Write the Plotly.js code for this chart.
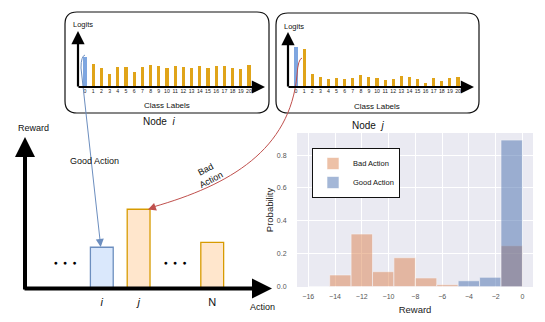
<!DOCTYPE html>
<html>
<head>
<meta charset="utf-8">
<script src="https://cdn.plot.ly/plotly-3.0.1.min.js"></script>
<style>
  html, body { margin: 0; padding: 0; background: #fff; }
  #chart { width: 545px; height: 322px; }
</style>
</head>
<body>
<div id="chart"></div>
<script>
// logits of the two nodes (class 0..20)
const classLabels = ['0','1','2','3','4','5','6','7','8','9','10','11','12','13','14','15','16','17','18','19','20'];
const nodeILogits = [3.0, 2.3, 1.9, 1.3, 2.0, 2.0, 1.5, 2.0, 2.2, 2.1, 1.9, 2.1, 2.0, 1.9, 2.1, 1.9, 2.1, 2.1, 1.9, 1.8, 2.2];
const nodeJLogits = [4.0, 3.8, 1.3, 1.0, 0.8, 0.9, 0.8, 0.9, 1.2, 1.0, 0.9, 0.7, 0.8, 1.1, 1.0, 0.8, 0.4, 0.9, 0.6, 0.9, 1.0];

// reward per action (sketch)
const actionLabels = ['i', 'j', 'N'];
const actionSlots = [1, 2, 4];
const actionRewards = [1.03, 1.98, 1.15];
const dotSlots = [0, 3];

// reward histogram
const rewardBins = [-15.2, -13.6, -12.0, -10.4, -8.8, -7.2, -5.6, -4.0, -2.4, -0.8];
const badProb  = [0, 0.071, 0.32, 0.091, 0.176, 0.053, 0.012, 0, 0, 0.249];
const goodProb = [0, 0, 0, 0, 0, 0, 0, 0.036, 0.057, 0.891];

const W = 545, H = 322;
const FONT = 'Liberation Sans, Arial, sans-serif';
const gold = '#e0a419', logitBlue = '#7ea6e0';
const lineBlue = '#6c8ebf', lineRed = '#c0504d';

// pixel -> paper helpers
const px = x => x / W;
const py = y => 1 - y / H;
const pt = (x, y) => px(x) + ',' + py(y);

function roundRect(x0, y0, x1, y1, r) {
  return 'M' + pt(x0 + r, y0) + ' L' + pt(x1 - r, y0) + ' Q' + pt(x1, y0) + ' ' + pt(x1, y0 + r) +
    ' L' + pt(x1, y1 - r) + ' Q' + pt(x1, y1) + ' ' + pt(x1 - r, y1) +
    ' L' + pt(x0 + r, y1) + ' Q' + pt(x0, y1) + ' ' + pt(x0, y1 - r) +
    ' L' + pt(x0, y0 + r) + ' Q' + pt(x0, y0) + ' ' + pt(x0 + r, y0) + ' Z';
}

function arrow(tipX, tipY, tailX, tailY, color, width, size) {
  return {
    xref: 'paper', yref: 'paper', x: px(tipX), y: py(tipY),
    ax: tailX - tipX, ay: tailY - tipY, axref: 'pixel', ayref: 'pixel',
    text: '', showarrow: true, arrowhead: 2, arrowsize: size,
    arrowwidth: width, arrowcolor: color, standoff: 0, startstandoff: 0
  };
}

function label(x, y, text, size, extra) {
  return Object.assign({
    xref: 'paper', yref: 'paper', x: px(x), y: py(y), text: text,
    showarrow: false, font: { family: FONT, size: size, color: '#111' },
    xanchor: 'center', yanchor: 'middle'
  }, extra || {});
}

const traces = [
  {
    type: 'bar', x: classLabels, y: nodeILogits, xaxis: 'x', yaxis: 'y',
    width: 0.38, showlegend: false, hoverinfo: 'skip',
    marker: { color: classLabels.map((c, k) => k === 0 ? logitBlue : gold) }
  },
  {
    type: 'bar', x: classLabels, y: nodeJLogits, xaxis: 'x2', yaxis: 'y2',
    width: 0.38, showlegend: false, hoverinfo: 'skip',
    marker: { color: classLabels.map((c, k) => k === 0 ? logitBlue : gold) }
  },
  {
    type: 'bar', x: actionSlots, y: actionRewards, xaxis: 'x3', yaxis: 'y3',
    width: 0.62, showlegend: false, hoverinfo: 'skip',
    marker: {
      color: actionLabels.map(a => a === 'i' ? '#dae8fc' : '#ffe6cc'),
      line: { color: actionLabels.map(a => a === 'i' ? lineBlue : '#d79b00'), width: 1.3 }
    }
  },
  {
    type: 'bar', name: 'Bad Action', x: rewardBins, y: badProb, xaxis: 'x4', yaxis: 'y4',
    width: 1.6, opacity: 0.5,
    marker: { color: '#dd8452', line: { color: '#ffffff', width: 0.6 } }
  },
  {
    type: 'bar', name: 'Good Action', x: rewardBins, y: goodProb, xaxis: 'x4', yaxis: 'y4',
    width: 1.6, opacity: 0.5,
    marker: { color: '#4c72b0', line: { color: '#ffffff', width: 0.6 } }
  }
];

const logitX = (d0, d1, r0, r1) => ({
  domain: [px(d0), px(d1)], range: [r0, r1], type: 'category',
  showgrid: false, zeroline: false, showline: false, ticks: '',
  tickfont: { family: FONT, size: 5.2, color: '#222' }, tickangle: 0, fixedrange: true
});
const hiddenY = (d0, d1, r1) => ({
  domain: [py(d0), py(d1)], range: [0, r1], showgrid: false, zeroline: false,
  showline: false, showticklabels: false, ticks: ''
});

const layout = {
  width: W, height: H,
  margin: { l: 0, r: 0, t: 0, b: 0 },
  paper_bgcolor: '#fff', plot_bgcolor: 'rgba(0,0,0,0)',
  barmode: 'overlay', bargap: 0,
  font: { family: FONT },
  xaxis: Object.assign(logitX(78, 264, -0.85, 21.83), { anchor: 'y' }),
  yaxis: Object.assign(hiddenY(87, 32, 5.5), { anchor: 'x' }),
  xaxis2: Object.assign(logitX(288, 473, -0.99, 21.85), { anchor: 'y2' }),
  yaxis2: Object.assign(hiddenY(87, 33, 5.4), { anchor: 'x2' }),
  xaxis3: {
    domain: [px(25), px(270)], range: [-1.087, 5.57], anchor: 'y3',
    tickvals: actionSlots,
    ticktext: actionLabels.map(a => a === 'N' ? a : '<i>' + a + '</i>'),
    ticks: 'outside', ticklen: 3, tickcolor: 'rgba(0,0,0,0)',
    tickfont: { family: FONT, size: 11, color: '#111' },
    showgrid: false, zeroline: false, showline: false
  },
  yaxis3: Object.assign(hiddenY(288.5, 138, 3.76), { anchor: 'x3' }),
  xaxis4: {
    domain: [px(297), px(533)], range: [-16.84, 0.79], anchor: 'y4',
    dtick: 2, tick0: 0, showgrid: true, gridcolor: '#ffffff', gridwidth: 1,
    zeroline: false, showline: false,
    ticks: 'outside', ticklen: 3, tickcolor: 'rgba(0,0,0,0)',
    tickfont: { family: FONT, size: 7, color: '#555' },
    title: { text: 'Reward', font: { family: FONT, size: 9.5, color: '#222' }, standoff: 6 }
  },
  yaxis4: {
    domain: [py(287), py(133)], range: [-0.002, 0.934], anchor: 'x4',
    dtick: 0.2, tick0: 0, tickformat: '.1f',
    showgrid: true, gridcolor: '#ffffff', gridwidth: 1,
    zeroline: false, showline: false,
    ticks: 'outside', ticklen: 8, tickcolor: 'rgba(0,0,0,0)',
    tickfont: { family: FONT, size: 7, color: '#555' },
    title: { text: 'Probability', font: { family: FONT, size: 9.5, color: '#222' }, standoff: 1 }
  },
  showlegend: true,
  legend: {
    x: px(312), y: py(148), xanchor: 'left', yanchor: 'top',
    bgcolor: '#ffffff', bordercolor: '#111', borderwidth: 1,
    font: { family: FONT, size: 7.5, color: '#111' },
    itemwidth: 30, tracegroupgap: 2
  },
  shapes: [
    // histogram background
    { type: 'rect', xref: 'x4 domain', yref: 'y4 domain', x0: 0, x1: 1, y0: 0, y1: 1,
      fillcolor: '#eaeaf2', line: { width: 0 }, layer: 'below' },
    // node boxes
    { type: 'path', xref: 'paper', yref: 'paper', path: roundRect(65, 12, 269, 113, 12),
      line: { color: '#111', width: 1.2 } },
    { type: 'path', xref: 'paper', yref: 'paper', path: roundRect(276, 13, 479, 113, 12),
      line: { color: '#111', width: 1.2 } },
    // good action link
    { type: 'path', xref: 'paper', yref: 'paper',
      path: 'M' + pt(85, 55) + ' Q' + pt(81, 56) + ' ' + pt(81, 68) + ' L' + pt(100, 240),
      line: { color: lineBlue, width: 1 } },
    // bad action link
    { type: 'path', xref: 'paper', yref: 'paper',
      path: 'M' + pt(302, 58) + ' Q' + pt(298, 59) + ' ' + pt(297, 75) +
        ' C' + pt(290, 150) + ' ' + pt(230, 185) + ' ' + pt(153, 207),
      line: { color: lineRed, width: 1 } }
  ],
  annotations: [
    // node i axes
    arrow(78, 31, 78, 88, '#000', 2.2, 1.2),
    arrow(265, 87, 77, 87, '#000', 2.2, 1.2),
    // node j axes
    arrow(288, 32, 288, 88, '#000', 2.2, 1.2),
    arrow(474, 87, 287, 87, '#000', 2.2, 1.2),
    // reward sketch axes
    arrow(25, 137, 25, 291, '#000', 4, 1),
    arrow(272, 288.5, 23, 288.5, '#000', 4, 1),
    // link arrowheads
    arrow(100.7, 247, 99.8, 239, lineBlue, 1, 1.6),
    arrow(148, 209.5, 156, 206.5, lineRed, 1, 1.6),
    label(83, 25, 'Logits', 7.5),
    label(294, 27, 'Logits', 7.5),
    label(167, 105, 'Class Labels', 8),
    label(377, 106, 'Class Labels', 8),
    label(159, 122, 'Node  <i>i</i>', 10),
    label(368, 125, 'Node  <i>j</i>', 10),
    label(33, 128, 'Reward', 9),
    label(262, 307, 'Action', 9),
    label(94, 161, 'Good Action', 9),
    label(208, 175, 'Bad<br>Action', 9, { textangle: -28 }),
    ...dotSlots.map(s => ({
      xref: 'x3', yref: 'paper', x: s, y: py(268), text: '●   ●   ●',
      showarrow: false, font: { family: FONT, size: 6.5, color: '#000' }
    }))
  ]
};

Plotly.newPlot('chart', traces, layout, { staticPlot: true, displayModeBar: false });
</script>
</body>
</html>
